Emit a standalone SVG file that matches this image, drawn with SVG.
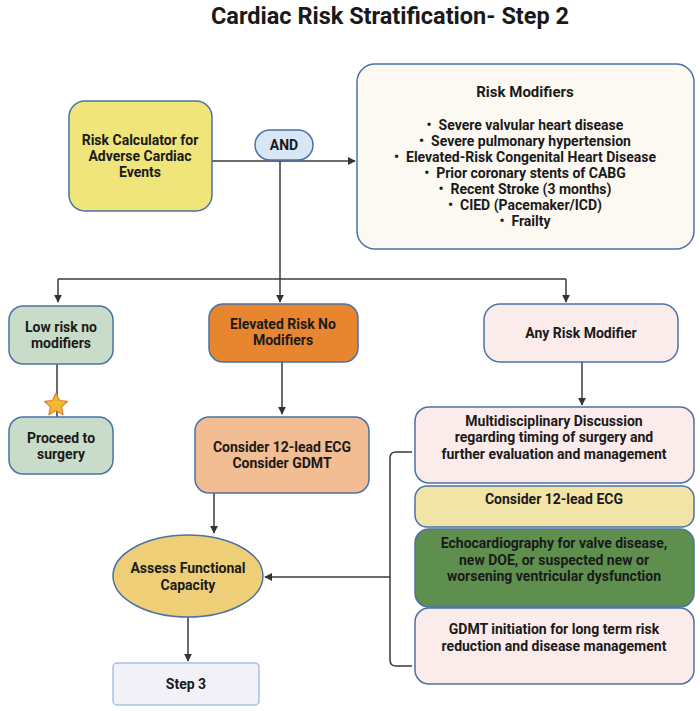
<svg xmlns="http://www.w3.org/2000/svg" width="700" height="711" viewBox="0 0 700 711">
<defs>
<marker id="ah" viewBox="0 0 10 10" refX="9" refY="5" markerWidth="8" markerHeight="8" markerUnits="userSpaceOnUse" orient="auto">
<path d="M0,0 L10,5 L0,10 z" fill="#333"/>
</marker>
<style>
.n{stroke:#4a72a6;stroke-width:1.5}
.t{font-family:Roboto,"Liberation Sans",sans-serif;font-weight:700;font-size:14px;fill:#1a1a1a;text-anchor:middle}
.c{fill:none;stroke:#3a3a3a;stroke-width:1.5}
</style>
</defs>
<rect width="700" height="711" fill="#fff"/>
<text x="390" y="24" class="t" style="font-size:23.5px" fill="#2b2b2b">Cardiac Risk Stratification- Step 2</text>

<g id="connectors">
<path class="c" d="M212,161 H355" marker-end="url(#ah)"/>
<path class="c" d="M280,161 V279"/>
<path class="c" d="M58,279 H566"/>
<path class="c" d="M58,279 V302" marker-end="url(#ah)"/>
<path class="c" d="M280,279 V302" marker-end="url(#ah)"/>
<path class="c" d="M566,279 V302" marker-end="url(#ah)"/>
<path class="c" d="M57,364 V417"/>
<path class="c" d="M282,362 V414" marker-end="url(#ah)"/>
<path class="c" d="M582,362 V405" marker-end="url(#ah)"/>
<path class="c" d="M214,493 V533" marker-end="url(#ah)"/>
<path class="c" d="M188,617 V661" marker-end="url(#ah)"/>
<path class="c" d="M412,452 H396 Q390,452 390,458 V660 Q390,666 396,666 H412"/>
<path class="c" d="M390,577 H265" marker-end="url(#ah)"/>
</g>

<g id="risk-calculator">
<rect class="n" x="69" y="101" width="143" height="110" rx="16" fill="#efe57a"/>
<text class="t" x="140" y="145">Risk Calculator for</text>
<text class="t" x="140" y="161">Adverse Cardiac</text>
<text class="t" x="140" y="177">Events</text>
</g>

<g id="and">
<rect class="n" x="255" y="130" width="58" height="30" rx="15" fill="#d8e6f5"/>
<text class="t" x="284" y="150">AND</text>
</g>

<g id="risk-modifiers">
<rect class="n" x="357" y="64" width="337" height="185" rx="18" fill="#fcf9f2"/>
<text class="t" x="525" y="97" style="font-size:15px">Risk Modifiers</text>
<text class="t" x="525" y="130">•&#160;&#160;Severe valvular heart disease</text>
<text class="t" x="525" y="146">•&#160;&#160;Severe pulmonary hypertension</text>
<text class="t" x="525" y="162">•&#160;&#160;Elevated-Risk Congenital Heart Disease</text>
<text class="t" x="525" y="178">•&#160;&#160;Prior coronary stents of CABG</text>
<text class="t" x="525" y="194">•&#160;&#160;Recent Stroke (3 months)</text>
<text class="t" x="525" y="210">•&#160;&#160;CIED (Pacemaker/ICD)</text>
<text class="t" x="525" y="226">•&#160;&#160;Frailty</text>
</g>

<g id="low-risk">
<rect class="n" x="9" y="306" width="104" height="58" rx="14" fill="#c9dcc9"/>
<text class="t" x="61" y="332">Low risk no</text>
<text class="t" x="61" y="348">modifiers</text>
</g>

<g id="star">
<polygon points="56,393 59.5,400.5 67.5,401.3 61.5,406.8 63.1,414.7 56,410.6 48.9,414.7 50.5,406.8 44.5,401.3 52.5,400.5" fill="#f4b731" stroke="#d9822b" stroke-width="1.2" stroke-linejoin="round"/>
</g>

<g id="proceed">
<rect class="n" x="9" y="417" width="104" height="57" rx="14" fill="#c9dcc9"/>
<text class="t" x="61" y="443">Proceed to</text>
<text class="t" x="61" y="459">surgery</text>
</g>

<g id="elevated">
<rect class="n" x="209" y="304" width="149" height="58" rx="14" fill="#e7862f"/>
<text class="t" x="283" y="329">Elevated Risk No</text>
<text class="t" x="283" y="345">Modifiers</text>
</g>

<g id="consider-ecg-gdmt">
<rect class="n" x="195" y="417" width="174" height="76" rx="14" fill="#f2bd92"/>
<text class="t" x="282" y="452">Consider 12-lead ECG</text>
<text class="t" x="282" y="468">Consider GDMT</text>
</g>

<g id="functional-capacity">
<ellipse class="n" cx="188" cy="576" rx="75" ry="41" fill="#eecf78"/>
<text class="t" x="188" y="573">Assess Functional</text>
<text class="t" x="188" y="590">Capacity</text>
</g>

<g id="step3">
<rect x="113" y="663" width="146" height="42" rx="4" fill="#f3f1f8" stroke="#a9c0dd" stroke-width="1.5"/>
<text class="t" x="186" y="689">Step 3</text>
</g>

<g id="any-risk">
<rect class="n" x="484" y="304" width="194" height="58" rx="16" fill="#fbeceb"/>
<text class="t" x="581" y="338">Any Risk Modifier</text>
</g>

<g id="multidisciplinary">
<rect class="n" x="415" y="407" width="279" height="76" rx="14" fill="#fbeceb"/>
<text class="t" x="554" y="426">Multidisciplinary Discussion</text>
<text class="t" x="554" y="442">regarding timing of surgery and</text>
<text class="t" x="554" y="459">further evaluation and management</text>
</g>

<g id="ecg">
<rect class="n" x="415" y="486" width="279" height="41" rx="12" fill="#f2e3a6"/>
<text class="t" x="554" y="504">Consider 12-lead ECG</text>
</g>

<g id="echo">
<rect class="n" x="415" y="529" width="279" height="78" rx="14" fill="#5e8f4e"/>
<text class="t" x="554" y="548">Echocardiography for valve disease,</text>
<text class="t" x="554" y="565">new DOE, or suspected new or</text>
<text class="t" x="554" y="581">worsening ventricular dysfunction</text>
</g>

<g id="gdmt">
<rect class="n" x="415" y="608" width="279" height="76" rx="14" fill="#fbeceb"/>
<text class="t" x="554" y="634">GDMT initiation for long term risk</text>
<text class="t" x="554" y="651">reduction and disease management</text>
</g>
</svg>
